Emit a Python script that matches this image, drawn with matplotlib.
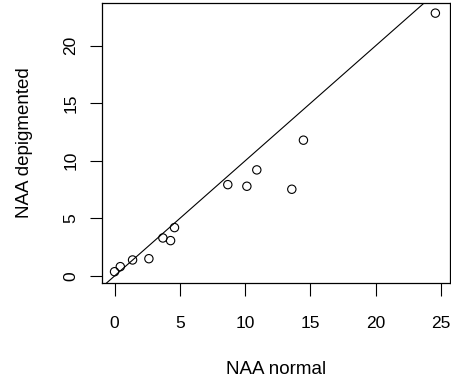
"""NAA normal vs NAA depigmented scatter with identity line."""
import matplotlib
matplotlib.use("agg")
import matplotlib.pyplot as plt

plt.rcParams["font.family"] = ["Liberation Sans", "DejaVu Sans"]

# ---------------------------------------------------------------------------
# Data
# ---------------------------------------------------------------------------
naa_normal = [0.0, 0.44, 1.38, 2.63, 3.70, 4.29, 4.59, 8.67, 10.13, 10.89, 13.57, 14.46, 24.56]
naa_depigmented = [0.37, 0.81, 1.39, 1.50, 3.30, 3.07, 4.20, 7.93, 7.79, 9.21, 7.53, 11.79, 22.82]
x_ticks = [0, 5, 10, 15, 20, 25]
y_ticks = [0, 5, 10, 15, 20]

W, H, DPI = 452, 387, 100
fig = plt.figure(figsize=(W / DPI, H / DPI), dpi=DPI)
ax = fig.add_axes([102 / W, 1 - 283 / H, 348 / W, 280 / H])

ax.scatter(naa_normal, naa_depigmented, s=36, facecolors="none",
           edgecolors="black", linewidths=0.8, zorder=3)
ax.axline((0, 0), slope=1, color="black", linewidth=0.8)

ax.set_xlim(-0.96, 25.68)
ax.set_ylim(-0.61, 23.7)
ax.set_xticks(x_ticks)
ax.set_yticks(y_ticks)
ax.tick_params(axis="both", direction="out", length=9, width=0.8,
               labelsize=12.5, colors="black")
ax.tick_params(axis="x", pad=15)
ax.tick_params(axis="y", pad=8)
for lbl in ax.get_yticklabels():
    lbl.set_rotation(90)
    lbl.set_va("center")

for spine in ax.spines.values():
    spine.set_linewidth(0.9)

ax.set_xlabel("NAA normal", fontsize=13.5, labelpad=21)
ax.set_ylabel("NAA depigmented", fontsize=13.5, labelpad=22)

fig.savefig("out.png", dpi=DPI)
plt.close(fig)
